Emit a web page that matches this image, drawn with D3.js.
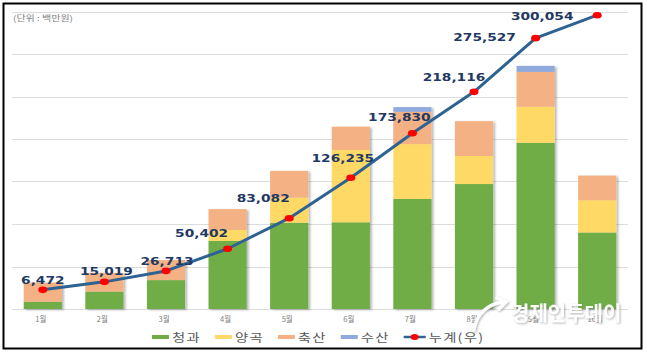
<!DOCTYPE html>
<html>
<head>
<meta charset="utf-8">
<script src="https://cdn.jsdelivr.net/npm/d3@7"></script>
<style>
  html, body { margin: 0; padding: 0; background: #fff; }
  svg { display: block; }
</style>
</head>
<body>
<div id="chart"></div>
<script>
// monthly values (million won)
const months     = ['1월', '2월', '3월', '4월', '5월', '6월', '7월', '8월', '9월', '10월'];
const fruitVeg   = [1700, 4100, 6800, 16000, 20300, 20400, 25900, 29400, 39100, 18000];
const grain      = [0, 0, 0, 2600, 5900, 17000, 12900, 6600, 8500, 7600];
const livestock  = [4500, 4400, 4700, 4900, 6300, 5500, 7600, 8200, 8200, 5800];
const fishery    = [0, 0, 0, 0, 0, 0, 1100, 0, 1400, 0];
const cumulative = [6472, 15019, 26713, 50402, 83082, 126235, 173830, 218116, 275527, 300054];
const seriesNames = ['청과', '양곡', '축산', '수산'];
const lineName = '누계(우)';
const unitLabel = '(단위 : 백만원)';

// label nudges relative to each line point (layout only)
const labelOffset = [[0, -6], [2, -7], [1, -6], [-26, -12], [-26, -16],
                     [-8, -16], [-13, -12], [-20, -11], [-51, 3], [-55, 5]];

const W = 646, H = 353;
const colors = ['#70AD47', '#FFD966', '#F4B183', '#8FAADC'];
const lineColor = '#2E6293';
const SX = 1.25; // the source picture is stretched sideways

const svg = d3.select('#chart').append('svg')
  .attr('width', W).attr('height', H);

const defs = svg.append('defs');
const f = defs.append('filter').attr('id', 'shadow')
  .attr('x', '-20%').attr('y', '-5%').attr('width', '150%').attr('height', '115%');
f.append('feDropShadow').attr('dx', 2).attr('dy', 1)
  .attr('stdDeviation', 1).attr('flood-color', '#000').attr('flood-opacity', 0.28);
const wf = defs.append('filter').attr('id', 'wmshadow')
  .attr('x', '-10%').attr('y', '-30%').attr('width', '130%').attr('height', '160%');
wf.append('feDropShadow').attr('dx', 1).attr('dy', 1)
  .attr('stdDeviation', 1.2).attr('flood-color', '#777').attr('flood-opacity', 0.6);

const x = d3.scaleBand().domain(months).range([12, 628])
  .paddingInner(0.38).paddingOuter(0.19);
const y = d3.scaleLinear().domain([0, 70000]).range([309, 11.5]);
const y2 = d3.scaleLinear().domain([-14000, 304000]).range([309, 11.5]);

// gridlines
svg.append('g')
  .selectAll('line')
  .data(y.ticks(7))
  .join('line')
  .attr('x1', 12).attr('x2', 628)
  .attr('y1', d => Math.round(y(d)) + 0.5).attr('y2', d => Math.round(y(d)) + 0.5)
  .attr('stroke', '#DCDCDC').attr('stroke-width', 1);

// stacked bars
const rows = months.map((m, i) => ({
  month: m, 청과: fruitVeg[i], 양곡: grain[i], 축산: livestock[i], 수산: fishery[i]
}));
const stacked = d3.stack().keys(seriesNames)(rows);

const barsG = svg.append('g');
months.forEach((m, i) => {
  const g = barsG.append('g').attr('filter', 'url(#shadow)');
  stacked.forEach((s, k) => {
    const d = s[i];
    if (d[1] - d[0] <= 0) return;
    g.append('rect')
      .attr('x', x(m)).attr('width', x.bandwidth())
      .attr('y', y(d[1])).attr('height', y(d[0]) - y(d[1]))
      .attr('fill', colors[k]);
  });
});

// x tick labels
svg.append('g')
  .selectAll('text')
  .data(months)
  .join('text')
  .attr('x', d => x(d) + x.bandwidth() / 2 - 2)
  .attr('y', 322)
  .attr('text-anchor', 'middle')
  .attr('font-family', '"Noto Sans CJK KR", sans-serif')
  .attr('font-size', '7.5px')
  .attr('fill', '#808080')
  .text(d => d);

// cumulative line
const cx = i => x(months[i]) + x.bandwidth() / 2;
svg.append('path')
  .datum(cumulative)
  .attr('d', d3.line().x((d, i) => cx(i)).y(d => y2(d)))
  .attr('fill', 'none')
  .attr('stroke', lineColor).attr('stroke-width', 3)
  .attr('stroke-linejoin', 'round');

svg.append('g')
  .selectAll('ellipse')
  .data(cumulative)
  .join('ellipse')
  .attr('cx', (d, i) => cx(i)).attr('cy', d => y2(d))
  .attr('rx', 4.5).attr('ry', 3.3)
  .attr('fill', '#FF0000');

svg.append('g')
  .selectAll('text')
  .data(cumulative)
  .join('text')
  .attr('transform', (d, i) =>
    `translate(${cx(i) + labelOffset[i][0]},${y2(d) + labelOffset[i][1]}) scale(${SX},1)`)
  .attr('text-anchor', 'middle')
  .attr('font-family', '"DejaVu Sans", Verdana, sans-serif')
  .attr('font-weight', 'bold')
  .attr('font-size', '11px')
  .attr('fill', '#1F3864')
  .text(d => d3.format(',')(d));

// unit label
svg.append('text')
  .attr('transform', `translate(13,21) scale(${SX},1)`)
  .attr('font-family', '"Noto Sans CJK KR", sans-serif')
  .attr('font-size', '8px')
  .attr('fill', '#808080')
  .text(unitLabel);

// legend
const legend = svg.append('g').attr('transform', 'translate(152,337)');
let lx = 0;
const legendItems = seriesNames.map((n, k) => ({ name: n, color: colors[k], line: false }))
  .concat([{ name: lineName, color: lineColor, line: true }]);
legendItems.forEach(it => {
  const g = legend.append('g').attr('transform', `translate(${lx},0)`);
  if (it.line) {
    g.append('line').attr('x1', 0).attr('x2', 22).attr('y1', 0).attr('y2', 0)
      .attr('stroke', it.color).attr('stroke-width', 2.5);
    g.append('ellipse').attr('cx', 11).attr('cy', 0).attr('rx', 4).attr('ry', 3)
      .attr('fill', '#FF0000');
  } else {
    g.append('rect').attr('x', 0).attr('y', -2).attr('width', 17).attr('height', 4)
      .attr('fill', it.color);
  }
  const sw = it.line ? 22 : 17;
  const t = g.append('text')
    .attr('transform', `translate(${sw + 3},0) scale(${SX},1)`)
    .attr('dominant-baseline', 'central')
    .attr('font-family', '"Noto Sans CJK KR", sans-serif')
    .attr('font-size', '11.5px')
    .attr('letter-spacing', '1px')
    .attr('fill', '#595959')
    .text(it.name);
  lx += sw + 3 + t.node().getComputedTextLength() * SX + 14;
});

// watermark
const wm = svg.append('g').attr('opacity', 0.95).attr('filter', 'url(#wmshadow)');
wm.append('path')
  .attr('d', 'M474,330 C476,314 488,304 503,302 M497,298 L506,302 L499,309')
  .attr('fill', 'none').attr('stroke', '#fff').attr('stroke-width', 3.5)
  .attr('stroke-linecap', 'round');
wm.append('text')
  .attr('x', 511).attr('y', 321)
  .attr('font-family', '"Noto Sans CJK KR", sans-serif')
  .attr('font-weight', 'bold')
  .attr('font-size', '20px')
  .attr('fill', '#fff')
  .text('경제인투데이');

// frame
svg.append('rect')
  .attr('x', 3.5).attr('y', 3.5).attr('width', 638).attr('height', 345)
  .attr('fill', 'none').attr('stroke', '#000').attr('stroke-width', 2);
</script>
</body>
</html>
